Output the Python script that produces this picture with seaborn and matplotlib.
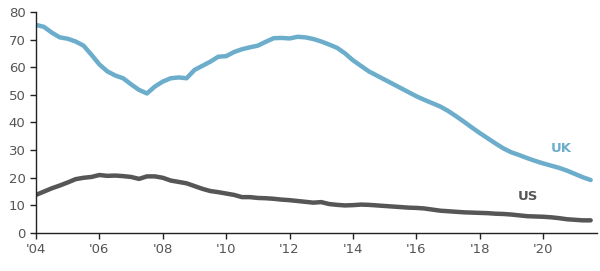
import numpy as np
import pandas as pd
import matplotlib
matplotlib.use("Agg")
import matplotlib.pyplot as plt
import seaborn as sns

years = [2004 + 0.25 * i for i in range(71)]
uk = [75.3, 74.6, 72.5, 70.8, 70.3, 69.3, 67.8, 64.5, 61.0, 58.5, 57.0, 56.0, 53.8, 51.8, 50.5, 53.0,
      54.8, 56.0, 56.3, 56.0, 59.0, 60.5, 62.0, 63.8, 64.0, 65.5, 66.5, 67.2, 67.8, 69.2, 70.5, 70.6,
      70.4, 71.0, 70.8, 70.2, 69.3, 68.2, 67.0, 65.0, 62.5, 60.5, 58.5, 57.0, 55.5, 54.0, 52.5, 51.0,
      49.5, 48.2, 47.0, 45.8, 44.2, 42.3, 40.3, 38.2, 36.2, 34.3, 32.4, 30.6, 29.2, 28.2, 27.1, 26.1,
      25.2, 24.4, 23.6, 22.6, 21.4, 20.2, 19.2]
us = [13.8, 15.0, 16.2, 17.2, 18.3, 19.5, 20.0, 20.3, 21.0, 20.7, 20.8, 20.6, 20.3, 19.6, 20.5, 20.5,
      20.0, 19.0, 18.5, 18.0, 17.0, 16.0, 15.2, 14.8, 14.3, 13.8, 13.0, 13.0, 12.7, 12.6, 12.4, 12.1,
      11.9, 11.6, 11.3, 11.0, 11.2, 10.5, 10.2, 10.0, 10.1, 10.3, 10.2, 10.0, 9.8, 9.6, 9.4, 9.2,
      9.1, 8.9, 8.5, 8.1, 7.9, 7.7, 7.5, 7.4, 7.3, 7.2, 7.0, 6.9, 6.7, 6.4, 6.1, 6.0,
      5.9, 5.7, 5.4, 5.0, 4.8, 4.6, 4.6]
xticks = [2004, 2006, 2008, 2010, 2012, 2014, 2016, 2018, 2020]
xticklabels = ["'04", "'06", "'08", "'10", "'12", "'14", "'16", "'18", "'20"]
yticks = [0, 10, 20, 30, 40, 50, 60, 70, 80]

df = pd.DataFrame({
    "year": years * 2,
    "value": uk + us,
    "country": ["UK"] * len(uk) + ["US"] * len(us),
})

sns.set_style("white")
plt.rcParams['font.family'] = ['DejaVu Sans']
colors = {"UK": "#6cadcc", "US": "#565656"}

fig = plt.figure(figsize=(6, 2.71), dpi=100)
ax = fig.add_axes([0.06, 0.14, 0.935, 0.816])
sns.lineplot(data=df, x="year", y="value", hue="country", palette=colors,
             linewidth=3.2, legend=False, ax=ax)

ax.set_xlim(2004, 2021.7)
ax.set_ylim(0, 80)
ax.set_xticks(xticks)
ax.set_xticklabels(xticklabels)
ax.set_yticks(yticks)
ax.set_xlabel("")
ax.set_ylabel("")
for s in ["top", "right"]:
    ax.spines[s].set_visible(False)
for s in ["left", "bottom"]:
    ax.spines[s].set_color("#222222")
    ax.spines[s].set_linewidth(1.0)
ax.tick_params(axis="both", colors="#222222", labelcolor="#555555", labelsize=9.5,
               length=4, width=1, direction="out", bottom=True, left=True)

ax.text(2020.25, 29.5, "UK", color=colors["UK"], fontsize=9.5, fontweight="bold")
ax.text(2019.2, 12.0, "US", color=colors["US"], fontsize=9.5, fontweight="bold")

fig.savefig("out.png", dpi=100)
